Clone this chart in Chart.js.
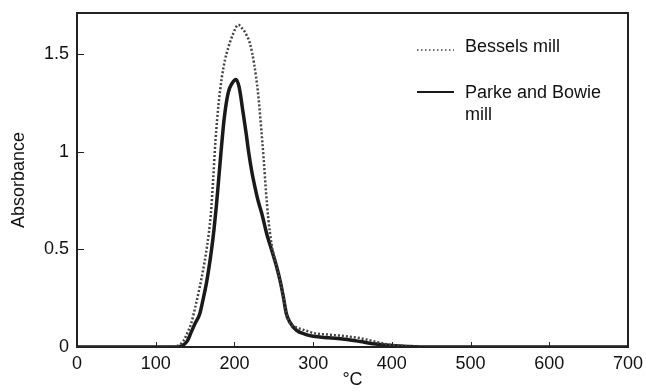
<!DOCTYPE html>
<html>
<head>
<meta charset="utf-8">
<script src="https://cdn.jsdelivr.net/npm/chart.js@4/dist/chart.umd.min.js"></script>
<style>
  html, body { margin: 0; padding: 0; background: #fff; }
  #wrap { width: 646px; height: 392px; }
</style>
</head>
<body>
<div id="wrap"><canvas id="c" width="646" height="392"></canvas></div>
<script>
/* ── data ── */
const seriesNames = ['Bessels mill', 'Parke and Bowie mill'];
const legendLines = [['Bessels mill'], ['Parke and Bowie', 'mill']];

const besselsT = [0, 100, 120, 125, 130, 135, 140, 145, 150, 155, 160, 165, 170, 173, 176, 180, 184, 188, 192, 198, 205,
  210, 215, 220, 225, 230, 234, 237, 240, 243, 247, 252, 258, 262, 266, 270, 276, 282, 290, 300, 320, 340, 360, 380, 400, 420, 440, 500, 700];
const besselsA = [0, 0, 0, 0.003, 0.01, 0.03, 0.07, 0.12, 0.2, 0.29, 0.39, 0.51, 0.68, 0.86, 1.06, 1.25, 1.38, 1.47, 1.53, 1.6, 1.65,
  1.63, 1.6, 1.55, 1.45, 1.3, 1.12, 0.97, 0.8, 0.66, 0.53, 0.44, 0.34, 0.26, 0.17, 0.125, 0.105, 0.095, 0.085, 0.072, 0.063, 0.056, 0.045, 0.026, 0.01, 0.004, 0, 0, 0];

const parkeT = [0, 100, 125, 130, 135, 140, 145, 150, 156, 160, 165, 171, 174, 177, 180, 183, 187, 192, 197, 202,
  206, 211, 215, 218, 222, 226, 230, 235, 241, 247, 253, 258, 262, 266, 270, 279, 290, 300, 320, 340, 360, 376, 400, 420, 440, 500, 700];
const parkeA = [0, 0, 0, 0.002, 0.01, 0.03, 0.075, 0.12, 0.17, 0.24, 0.34, 0.5, 0.6, 0.72, 0.86, 1.0, 1.17, 1.3, 1.35, 1.37,
  1.33, 1.2, 1.09, 1.0, 0.9, 0.82, 0.75, 0.68, 0.58, 0.5, 0.42, 0.34, 0.26, 0.17, 0.13, 0.085, 0.065, 0.055, 0.047, 0.04, 0.028, 0.017, 0.008, 0.003, 0, 0, 0];

const xTicks = [0, 100, 200, 300, 400, 500, 600, 700];
const yTicks = [0, 0.5, 1, 1.5];
const yTickLabels = ['0', '0.5', '1', '1.5'];

const FONT = '"Liberation Sans", Arial, Helvetica, sans-serif';
const INK = '#111';

const toPoints = (xs, ys) => xs.map((x, i) => ({ x, y: ys[i] }));

/* ── frame, inward ticks and legend drawn over the chart ── */
const decorations = {
  id: 'decorations',
  afterDatasetsDraw(chart) {
    const { ctx, chartArea: a, scales } = chart;
    ctx.save();
    ctx.strokeStyle = '#222';
    ctx.lineWidth = 2;
    ctx.strokeRect(a.left, a.top, a.right - a.left, a.bottom - a.top);

    // little inward ticks
    ctx.lineWidth = 1;
    xTicks.slice(1, -1).forEach(v => {
      const px = Math.round(scales.x.getPixelForValue(v)) + 0.5;
      ctx.beginPath(); ctx.moveTo(px, a.bottom); ctx.lineTo(px, a.bottom - 5); ctx.stroke();
    });
    yTicks.slice(1).forEach(v => {
      const py = Math.round(scales.y.getPixelForValue(v)) + 0.5;
      ctx.beginPath(); ctx.moveTo(a.left, py); ctx.lineTo(a.left + 7, py); ctx.stroke();
    });

    // legend
    const lx0 = 417, lx1 = 454, tx = 465;
    const rows = [{ line: 50, text: 47 }, { line: 92, text: 93 }];
    ctx.font = '18px ' + FONT;
    ctx.fillStyle = INK;
    ctx.textBaseline = 'middle';
    chart.data.datasets.forEach((ds, i) => {
      const r = rows[i];
      ctx.beginPath();
      ctx.strokeStyle = ds.borderColor;
      ctx.lineWidth = i === 0 ? 1.5 : 2;
      ctx.setLineDash(i === 0 ? [1.5, 2.5] : []);
      ctx.moveTo(lx0, r.line); ctx.lineTo(lx1, r.line); ctx.stroke();
      ctx.setLineDash([]);
      legendLines[i].forEach((t, j) => ctx.fillText(t, tx, r.text + j * 22));
    });
    ctx.restore();
  }
};

new Chart(document.getElementById('c'), {
  type: 'line',
  data: {
    datasets: [
      {
        label: seriesNames[0],
        data: toPoints(besselsT, besselsA),
        borderColor: '#444',
        borderWidth: 2.5,
        borderDash: [2, 2],
        pointRadius: 0,
        cubicInterpolationMode: 'monotone',
        fill: false
      },
      {
        label: seriesNames[1],
        data: toPoints(parkeT, parkeA),
        borderColor: '#1a1a1a',
        borderWidth: 3.5,
        pointRadius: 0,
        cubicInterpolationMode: 'monotone',
        fill: false
      }
    ]
  },
  options: {
    responsive: false,
    animation: false,
    layout: { padding: { left: 0, right: 18, top: 13, bottom: 0 } },
    plugins: { legend: { display: false }, tooltip: { enabled: false } },
    scales: {
      x: {
        type: 'linear',
        min: 0, max: 700,
        afterBuildTicks: s => { s.ticks = xTicks.map(v => ({ value: v })); },
        afterFit: s => { s.height = 45; s.paddingLeft = 0; s.paddingRight = 0; },
        grid: { display: false, drawTicks: false },
        border: { display: false },
        ticks: { color: INK, font: { family: FONT, size: 18 }, padding: 6, maxRotation: 0 },
        title: { display: true, text: '°C', color: INK, font: { family: FONT, size: 18 }, padding: { top: 0, bottom: 1 } }
      },
      y: {
        min: 0, max: 1.71,
        afterBuildTicks: s => { s.ticks = yTicks.map(v => ({ value: v })); },
        afterFit: s => { s.width = 77; s.paddingTop = 0; s.paddingBottom = 0; },
        grid: { display: false, drawTicks: false },
        border: { display: false },
        ticks: {
          color: INK, font: { family: FONT, size: 18 }, padding: 8,
          callback: (v) => yTickLabels[yTicks.indexOf(v)] ?? ''
        },
        title: { display: true, text: 'Absorbance', color: INK, font: { family: FONT, size: 18 }, padding: { top: 8, bottom: 0 } }
      }
    }
  },
  plugins: [decorations]
});
</script>
</body>
</html>
